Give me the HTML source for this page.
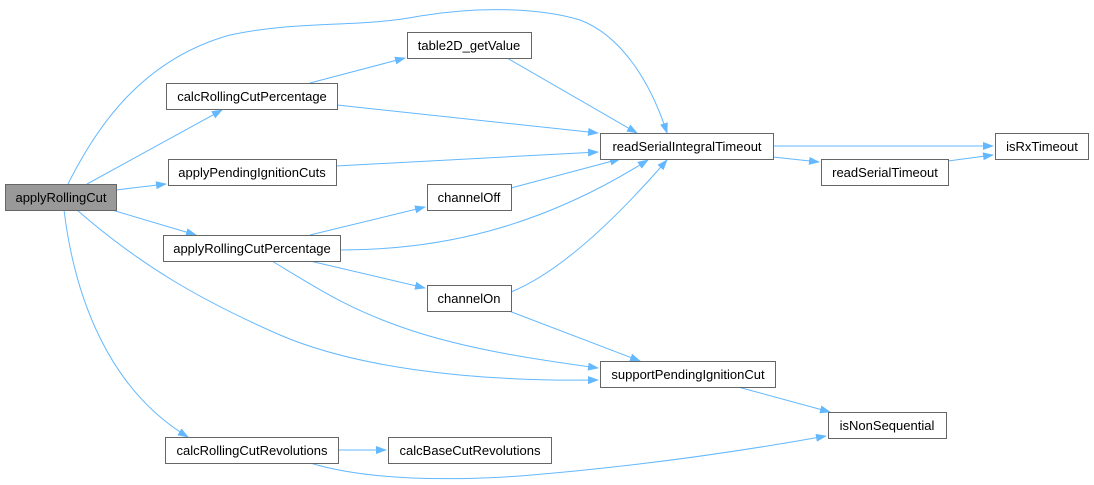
<!DOCTYPE html>
<html><head><style>body{margin:0;background:#fff}svg{display:block}text{font-family:"Liberation Sans",Arial,sans-serif;font-size:13px;fill:#000}</style></head>
<body>
<svg width="1094" height="485" viewBox="0 0 1094 485" xmlns="http://www.w3.org/2000/svg">
<defs><marker id="a" markerWidth="11" markerHeight="8" refX="10" refY="4" orient="auto" markerUnits="userSpaceOnUse"><path d="M0,0L11,4L0,8z" fill="#63b8ff"/></marker></defs>
<g fill="none" stroke="#63b8ff" stroke-width="1" marker-end="url(#a)">
<path d="M68,184C95,130 140,60 230,35C300,20 360,28 420,16C480,6 540,8 580,20C620,35 650,80 667,133"/>
<path d="M87,184L222,110"/>
<path d="M116,190L166,184"/>
<path d="M112,210L196,235"/>
<path d="M64,210C75,300 110,390 188,437"/>
<path d="M77,210C140,265 200,300 280,335C350,365 460,382 598,380"/>
<path d="M310,83L405,58"/>
<path d="M337,105L598,133"/>
<path d="M336,166L598,152"/>
<path d="M310,235L425,207"/>
<path d="M340,250C440,250 540,228 648,160"/>
<path d="M310,261L425,288"/>
<path d="M272,261C320,290 350,310 410,330C470,350 540,360 598,368"/>
<path d="M507,58L637,133"/>
<path d="M511,188L620,159"/>
<path d="M511,292C560,272 615,220 667,160"/>
<path d="M509,311L640,361"/>
<path d="M338,450L386,450"/>
<path d="M310,463C360,478 430,482 520,476C620,468 720,455 826,436"/>
<path d="M773,146L993,146"/>
<path d="M773,157L819,162"/>
<path d="M948,161L993,155"/>
<path d="M738,387L830,412"/>
</g>
<g stroke="#666" stroke-width="1" fill="#fff">
<rect x="5.5" y="184.5" width="111" height="26" fill="#999"/>
<rect x="166.5" y="83.5" width="171" height="26"/>
<rect x="168.5" y="159.5" width="168" height="26"/>
<rect x="163.5" y="235.5" width="177" height="26"/>
<rect x="165.5" y="437.5" width="173" height="26"/>
<rect x="407.5" y="32.5" width="124" height="26"/>
<rect x="427.5" y="184.5" width="84" height="26"/>
<rect x="427.5" y="285.5" width="84" height="26"/>
<rect x="388.5" y="437.5" width="163" height="26"/>
<rect x="600.5" y="133.5" width="173" height="26"/>
<rect x="600.5" y="361.5" width="175" height="26"/>
<rect x="821.5" y="159.5" width="127" height="26"/>
<rect x="995.5" y="133.5" width="93" height="26"/>
<rect x="828.5" y="412.5" width="118" height="26"/>
</g>
<g text-anchor="middle">
<text x="61" y="202">applyRollingCut</text>
<text x="252" y="101">calcRollingCutPercentage</text>
<text x="252" y="177">applyPendingIgnitionCuts</text>
<text x="252" y="253">applyRollingCutPercentage</text>
<text x="252" y="455">calcRollingCutRevolutions</text>
<text x="469" y="50">table2D_getValue</text>
<text x="469" y="202">channelOff</text>
<text x="469" y="303">channelOn</text>
<text x="470" y="455">calcBaseCutRevolutions</text>
<text x="687" y="151">readSerialIntegralTimeout</text>
<text x="688" y="379">supportPendingIgnitionCut</text>
<text x="885" y="177">readSerialTimeout</text>
<text x="1042" y="151">isRxTimeout</text>
<text x="887" y="430">isNonSequential</text>
</g>
</svg>
</body></html>
